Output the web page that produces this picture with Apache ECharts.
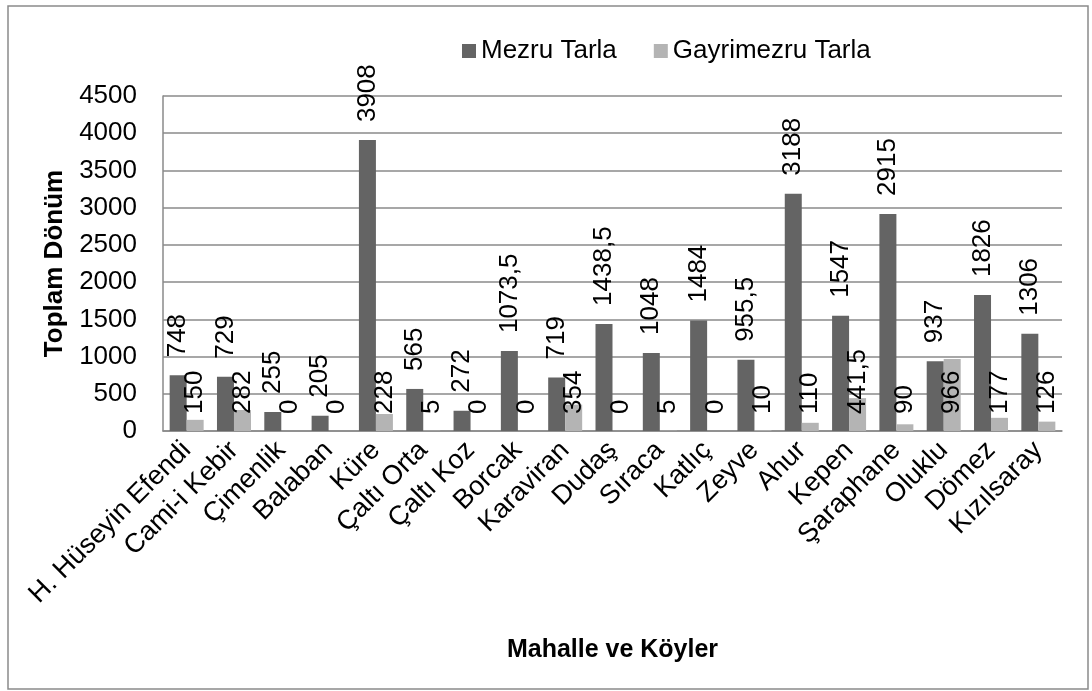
<!DOCTYPE html>
<html>
<head>
<meta charset="utf-8">
<script src="https://cdn.jsdelivr.net/npm/echarts@6/dist/echarts.min.js"></script>
<style>
  html, body { margin: 0; padding: 0; background: #fff; }
  #chart { width: 1092px; height: 691px; }
</style>
</head>
<body>
<div id="chart"></div>
<script>
const categories = ['H. Hüseyin Efendi', 'Cami-i Kebir', 'Çimenlik', 'Balaban', 'Küre', 'Çaltı Orta', 'Çaltı Koz',
  'Borcak', 'Karaviran', 'Dudaş', 'Sıraca', 'Katlıç', 'Zeyve', 'Ahur', 'Kepen', 'Şaraphane', 'Oluklu', 'Dömez', 'Kızılsaray']
const mezru = [748, 729, 255, 205, 3908, 565, 272, 1073.5, 719, 1438.5, 1048, 1484, 955.5, 3188, 1547, 2915, 937, 1826, 1306]
const gayrimezru = [150, 282, 0, 0, 228, 5, 0, 0, 354, 0, 5, 0, 10, 110, 441.5, 90, 966, 177, 126]
const yTicks = { min: 0, max: 4500, interval: 500 }

const font = 'Liberation Sans, Arial, sans-serif'
// virgüllü ondalık gösterim
const fmt = p => String(p.value).replace('.', ',')

const chart = echarts.init(document.getElementById('chart'))

const option = {
  animation: false,
  textStyle: { fontFamily: font, color: '#000' },
  graphic: [{
    type: 'rect',
    shape: { x: 8, y: 6, width: 1080, height: 683 },
    style: { fill: 'none', stroke: '#8a8a8a', lineWidth: 1.5 }
  }],
  legend: {
    left: 457,
    top: 33,
    itemWidth: 14,
    itemHeight: 14,
    itemGap: 37,
    icon: 'rect',
    textStyle: { fontFamily: font, fontSize: 26, color: '#000' },
    data: ['Mezru Tarla', 'Gayrimezru Tarla']
  },
  grid: { left: 163, right: 30, top: 96, bottom: 260 },
  xAxis: {
    type: 'category',
    data: categories,
    name: 'Mahalle ve Köyler',
    nameLocation: 'middle',
    nameGap: 207,
    nameTextStyle: { fontFamily: font, fontSize: 25, fontWeight: 'bold', color: '#000' },
    axisLine: { lineStyle: { color: '#8a8a8a', width: 1.5 } },
    axisTick: { show: false },
    axisLabel: {
      interval: 0,
      rotate: 45,
      fontFamily: font,
      fontSize: 27,
      color: '#000',
      margin: 15
    }
  },
  yAxis: {
    type: 'value',
    min: yTicks.min,
    max: yTicks.max,
    interval: yTicks.interval,
    name: 'Toplam Dönüm',
    nameLocation: 'middle',
    nameGap: 77,
    nameTextStyle: { fontFamily: font, fontSize: 26, fontWeight: 'bold', color: '#000' },
    axisLine: { show: true, lineStyle: { color: '#8a8a8a', width: 1.5 } },
    axisTick: { show: false },
    axisLabel: { fontFamily: font, fontSize: 26, color: '#000', margin: 26, formatter: v => String(v) },
    splitLine: { lineStyle: { color: '#8a8a8a', width: 1.5 } }
  },
  series: [
    {
      name: 'Mezru Tarla',
      type: 'bar',
      data: mezru,
      barWidth: 17,
      barGap: '0%',
      itemStyle: { color: '#646464' },
      label: {
        show: true,
        position: 'top',
        distance: 18,
        rotate: 90,
        align: 'left',
        verticalAlign: 'middle',
        fontFamily: font,
        fontSize: 26,
        color: '#000',
        formatter: fmt
      }
    },
    {
      name: 'Gayrimezru Tarla',
      type: 'bar',
      data: gayrimezru,
      barWidth: 17,
      itemStyle: { color: '#b4b4b4' },
      label: {
        show: true,
        position: 'insideBottom',
        distance: 17,
        rotate: 90,
        align: 'left',
        verticalAlign: 'middle',
        fontFamily: font,
        fontSize: 26,
        color: '#000',
        formatter: fmt
      }
    }
  ]
}

chart.setOption(option)
</script>
</body>
</html>
